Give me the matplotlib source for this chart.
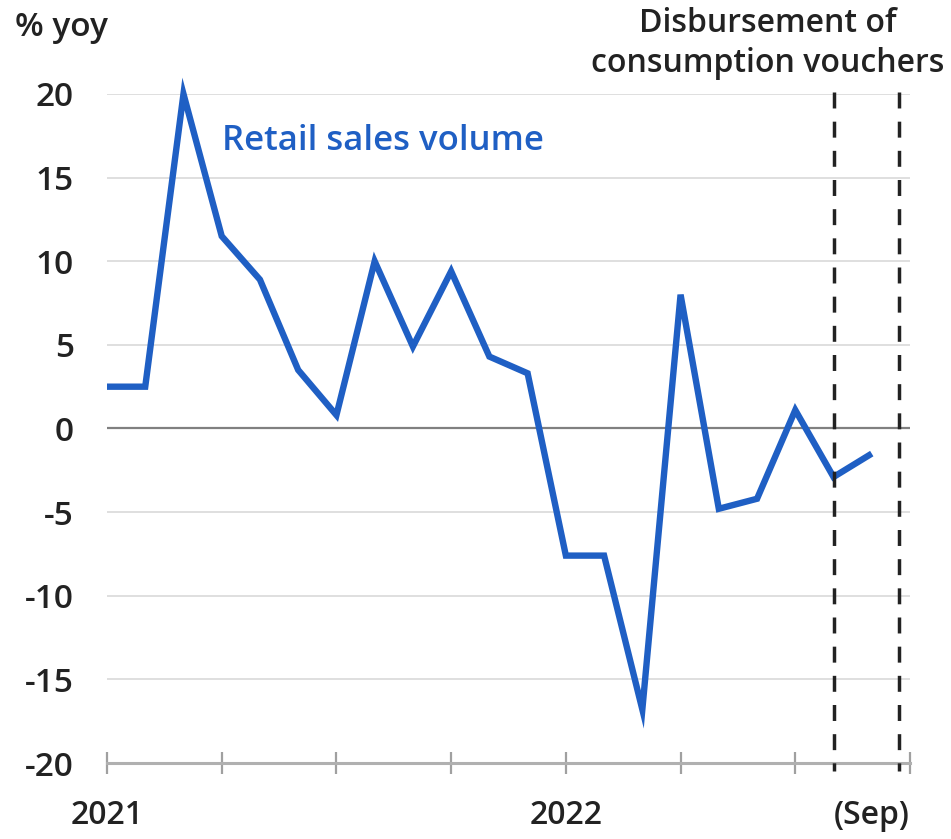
import matplotlib
matplotlib.use("Agg")
import matplotlib.pyplot as plt
import numpy as np

# Data: monthly retail sales volume, % yoy, Jan 2021 - Sep 2022
months = list(range(21))
retail_sales = [2.5, 2.5, 20.0, 11.5, 8.9, 3.5, 0.8, 10.0, 4.9, 9.4, 4.3, 3.3,
                -7.6, -7.6, -16.8, 8.0, -4.8, -4.2, 1.1, -2.9, -1.5]
yticks = [20, 15, 10, 5, 0, -5, -10, -15, -20]
ytick_labels = ["20", "15", "10", "5", "0", "-5", "-10", "-15", "-20"]
xlabel_pos = [0, 12, 20]
xlabel_text = ["2021", "2022", "(Sep)"]
major_ticks = [0, 3, 6, 9, 12, 15, 18, 21]
voucher_lines = [19, 20.7]

plt.rcParams['font.family'] = ['Open Sans', 'DejaVu Sans']

fig = plt.figure(figsize=(9.51, 8.39), dpi=100)
ax = fig.add_axes([107/951, 1-763/839, (910-107)/951, (763-94)/839])

dark = "#222222"
blue = "#1f5fc4"

for y in yticks:
    if y == 0:
        ax.axhline(y, color="#808080", lw=1.6, zorder=2)
    elif y != -20:
        ax.axhline(y, color="#d9d9d9", lw=1.2, zorder=1)

ax.plot(months, retail_sales, color=blue, lw=4.6, solid_joinstyle="miter",
        solid_capstyle="butt", zorder=4, clip_on=False)

for xv in voucher_lines:
    ax.plot([xv, xv], [20.1, -20.5], color=dark, lw=2.5,
            linestyle=(0, (4.6, 3.8)), zorder=5, clip_on=False)

ax.set_xlim(0, 21)
ax.set_ylim(-20, 20)
for s in ["top", "right", "left"]:
    ax.spines[s].set_visible(False)
ax.spines["bottom"].set_color("#b0b0b0")
ax.spines["bottom"].set_linewidth(2.2)

ax.set_yticks(yticks)
ax.set_yticklabels(ytick_labels)
ax.tick_params(axis="y", length=0, pad=24, labelsize=24, labelcolor=dark)
for lab in ax.get_yticklabels():
    lab.set_fontweight("semibold")

ax.xaxis.remove_overlapping_locs = False
ax.set_xticks(major_ticks)
ax.set_xticklabels([""] * len(major_ticks))
ax.tick_params(axis="x", which="major", direction="inout", length=16, width=1.6,
               color="#a0a0a0")
ax.set_xticks(xlabel_pos, minor=True)
ax.set_xticklabels(xlabel_text, minor=True)
ax.tick_params(axis="x", which="minor", length=0, pad=26, labelsize=23,
               labelcolor=dark)
for lab in ax.get_xticklabels(minor=True):
    lab.set_fontweight("semibold")

fig.text(15/951, 1-27/839, "% yoy", fontsize=24, fontweight="semibold",
         color=dark, ha="left", va="center")
fig.text(768/951, 1-43/839, "Disbursement of\nconsumption vouchers",
         fontsize=23, fontweight="semibold", color=dark, ha="center",
         va="center", linespacing=1.28)
ax.text(3.0, 17.2, "Retail sales volume", fontsize=25, fontweight="semibold",
        color=blue, ha="left", va="center")

fig.savefig("out.png", dpi=100)
